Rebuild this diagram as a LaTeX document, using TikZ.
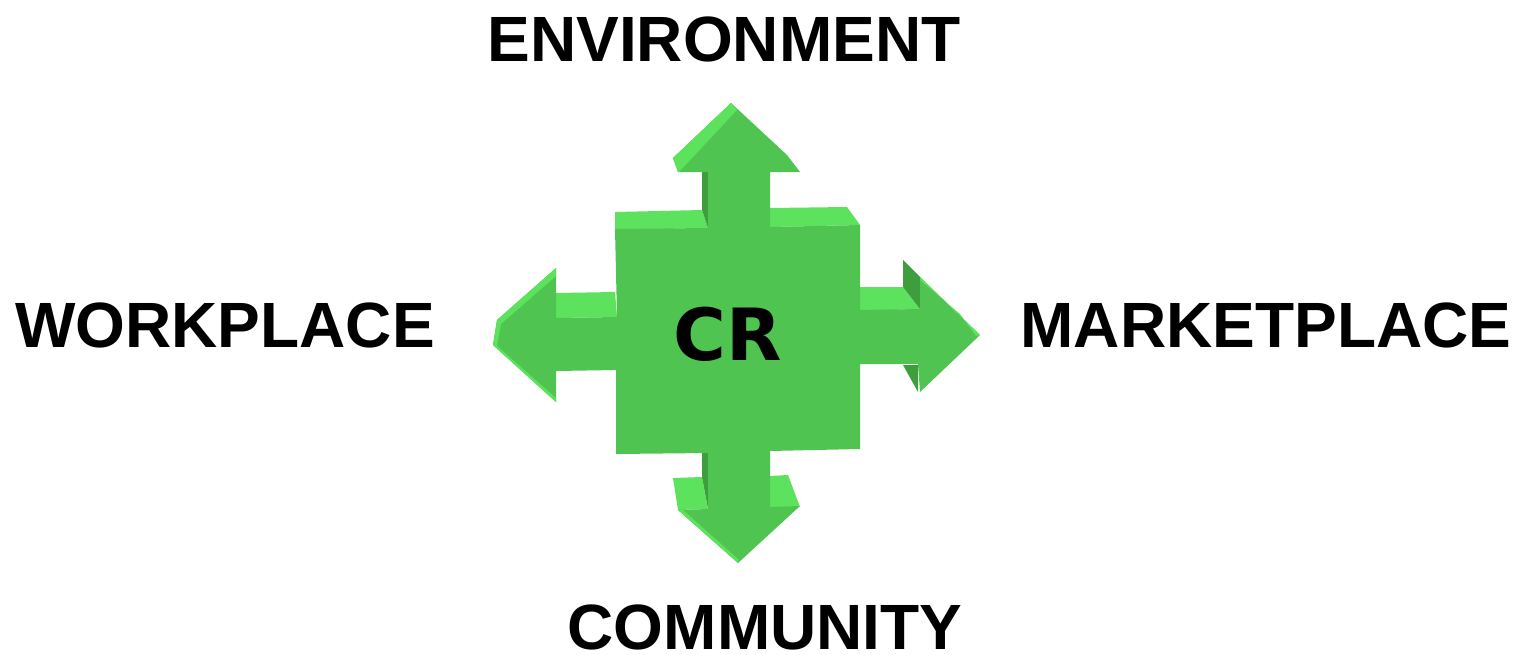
\documentclass[tikz,border=0pt]{standalone}
\usepackage{fontspec}
\setmainfont{Liberation Sans}
\newfontfamily\crfont{DejaVu Sans}
\definecolor{gfront}{RGB}{80,196,80}
\definecolor{glight}{RGB}{92,226,92}
\definecolor{gdark}{RGB}{62,158,62}
\begin{document}
\begin{tikzpicture}[x=1pt,y=-1pt,
  lab/.style={inner sep=0pt,anchor=base,text depth=0pt,font=\fontsize{64}{64}\selectfont\bfseries},
  front/.style={fill=gfront},
  lightf/.style={fill=glight},
  darkf/.style={fill=gdark}]
\useasboundingbox (0,0) rectangle (1534,654);
% ---------- back / side faces ----------
% top faces of central square
\path[lightf] (615,212) -- (702,210) -- (708,228) -- (615,230) -- cycle;
\path[lightf] (770,208) -- (847,207) -- (860,225) -- (770,227) -- cycle;
% up shaft dark side
\path[darkf] (702,172) -- (708,172) -- (708,228) -- (702,210) -- cycle;
% left shaft top face
\path[lightf] (556,293) -- (615,292) -- (617,317) -- (556,318) -- cycle;
% right shaft top face and head inner sides
\path[lightf] (860,287) -- (903,287) -- (920,309) -- (860,311) -- cycle;
\path[darkf] (903,260) -- (920,277) -- (920,309) -- (903,287) -- cycle;
\path[darkf] (903,365) -- (918,365) -- (918,392) -- cycle;
% bottom shaft dark side and head top faces
\path[darkf] (702,453) -- (708,453) -- (708,509) -- (702,478) -- cycle;
\path[lightf] (673,478) -- (702,477) -- (708,509) -- (678,510) -- cycle;
\path[lightf] (770,476) -- (788,475) -- (800,507) -- (770,508) -- cycle;
% ---------- front faces ----------
\path[front] (615,229) -- (708,228) -- (708,172) -- (678,172) -- (673,158)
  -- (731,103) -- (787,155) -- (800,172) -- (770,172) -- (770,227) -- (860,225)
  -- (860,310) -- (920,309) -- (920,277) -- (980,335) -- (920,392) -- (918,364)
  -- (860,364) -- (860,449) -- (770,451) -- (770,507) -- (800,506) -- (738,563)
  -- (678,510) -- (708,509) -- (708,453) -- (616,454) -- (616,370) -- (556,371)
  -- (556,402) -- (493,345) -- (497,320) -- (556,268) -- (556,318) -- (617,317)
  -- cycle;
% bevels
\path[lightf] (673,158) -- (731,103) -- (737,110) -- (679,172) -- (678,172) -- cycle;
\path[lightf] (493,345) -- (497,320) -- (556,268) -- (556,276) -- (501,324) -- (497,346) -- cycle;
\path[lightf] (920,277) -- (980,335) -- (976,336) -- (960,314) -- (920,280) -- cycle;
\path[lightf] (678,510) -- (738,563) -- (738,559) -- (683,510) -- cycle;
\path[lightf] (493,345) -- (556,402) -- (556,398) -- (496,345) -- cycle;
% ---------- labels ----------
\node[lab] (env) at (724,61) {ENVIRONMENT};
\node[lab] (work) at (225,347) {WORKPLACE};
\node[lab] (mark) at (1266,347) {MARKETPLACE};
\node[lab] (comm) at (765,649) {COMMUNITY};
\node[inner sep=0pt,anchor=base,text depth=0pt,font=\crfont\fontsize{72}{72}\selectfont\bfseries] (cr) at (728,360) {CR};
\end{tikzpicture}
\end{document}
